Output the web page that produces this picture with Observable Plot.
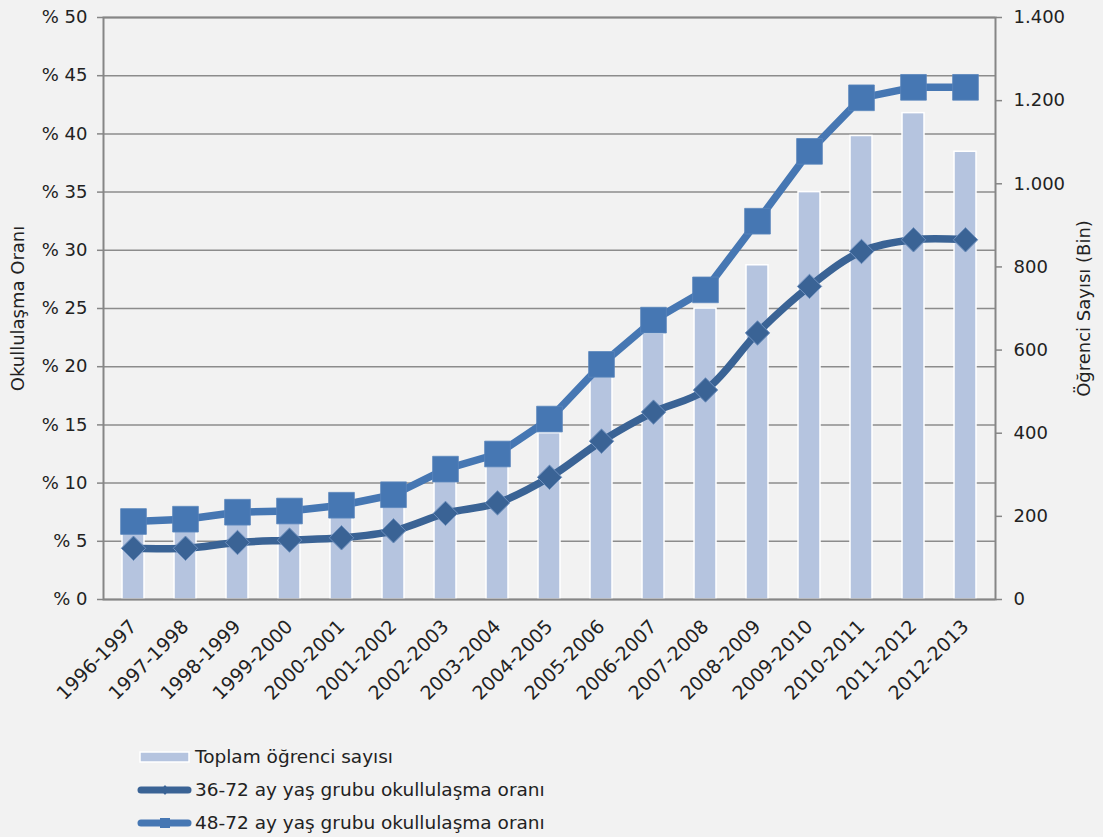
<!DOCTYPE html>
<html>
<head>
<meta charset="utf-8">
<script src="https://cdn.jsdelivr.net/npm/d3@7"></script>
<script src="https://cdn.jsdelivr.net/npm/@observablehq/plot@0.6"></script>
<style>
  html, body { margin: 0; padding: 0; background: #f2f2f2; }
  #wrap { width: 1103px; height: 837px; position: relative; background: #f2f2f2; font-family: "DejaVu Sans", sans-serif; color: #222; }
  #legend { position: absolute; left: 137px; top: 740px; font-size: 18.5px; }
  .row { display: flex; align-items: center; height: 33px; }
  .row svg { margin-right: 3px; }
</style>
</head>
<body>
<div id="wrap"><div id="chart"></div><div id="legend"></div></div>
<script>
const categories = ["1996-1997","1997-1998","1998-1999","1999-2000","2000-2001","2001-2002","2002-2003","2003-2004","2004-2005","2005-2006","2006-2007","2007-2008","2008-2009","2009-2010","2010-2011","2011-2012","2012-2013"];
const students = [185, 190, 200, 205, 225, 245, 310, 358, 400, 535, 640, 700, 804, 980, 1115, 1170, 1077];
const rate3672 = [4.4, 4.4, 4.9, 5.1, 5.3, 5.9, 7.4, 8.3, 10.5, 13.6, 16.1, 18.0, 22.9, 26.9, 29.9, 30.9, 30.9];
const rate4872 = [6.7, 6.9, 7.5, 7.6, 8.1, 9.0, 11.2, 12.5, 15.5, 20.2, 24.0, 26.6, 32.5, 38.5, 43.1, 44.0, 44.0];
const leftTicks = [0, 5, 10, 15, 20, 25, 30, 35, 40, 45, 50];
const rightTicks = [0, 200, 400, 600, 800, 1000, 1200, 1400];
const rightTickLabels = ["0", "200", "400", "600", "800", "1.000", "1.200", "1.400"];
const legendLabels = ["Toplam öğrenci sayısı", "36-72 ay yaş grubu okullulaşma oranı", "48-72 ay yaş grubu okullulaşma oranı"];

const leftMax = 50, rightMax = 1400;
const toLeft = v => v * leftMax / rightMax;

const barColor = "#b5c4df";
const col3672 = "#3a6395";
const col4872 = "#4677b3";
const axisGray = "#868686";

const table = categories.map((c, i) => ({cat: c, students: toLeft(students[i]), r36: rate3672[i], r48: rate4872[i]}));

const chart = Plot.plot({
  width: 1103, height: 735,
  marginLeft: 103, marginRight: 108, marginTop: 17, marginBottom: 136,
  style: {background: "#f2f2f2", fontFamily: "DejaVu Sans", fontSize: "18px", color: "#222", overflow: "visible"},
  x: {type: "band", domain: categories, padding: 0},
  y: {domain: [0, leftMax]},
  marks: [
    Plot.gridY(leftTicks, {stroke: "#8c8c8c", strokeOpacity: 1, strokeWidth: 1.5}),
    Plot.barY(table, {x: "cat", y1: 0, y2: "students", fill: barColor, stroke: "#ffffff", strokeWidth: 1.5, insetLeft: 15, insetRight: 15}),
    Plot.frame({stroke: axisGray, strokeWidth: 2}),
    Plot.line(table, {x: "cat", y: "r36", stroke: col3672, strokeWidth: 7.5, curve: "catmull-rom"}),
    Plot.line(table, {x: "cat", y: "r48", stroke: col4872, strokeWidth: 7.5}),
    Plot.dot(table, {x: "cat", y: "r36", symbol: "diamond2", r: 11, fill: col3672, stroke: "#6d8fbd", strokeWidth: 1}),
    Plot.dot(table, {x: "cat", y: "r48", symbol: "square", r: 14.5, fill: col4872, stroke: "#5b87bd", strokeWidth: 0.8}),
    Plot.axisY(leftTicks, {anchor: "left", tickFormat: d => "% " + d, tickSize: 6, tickPadding: 10, stroke: axisGray, strokeWidth: 1.5, fontSize: 18,
      label: "Okullulaşma Oranı", labelAnchor: "center", labelOffset: 92, labelArrow: "none"}),
    Plot.axisY(rightTicks.map(toLeft), {anchor: "right", tickFormat: d => rightTickLabels[Math.round(d * rightMax / leftMax / 200)], tickSize: 6, tickPadding: 12, stroke: axisGray, strokeWidth: 1.5, fontSize: 18,
      label: "Öğrenci Sayısı (Bin)", labelAnchor: "center", labelOffset: 94, labelArrow: "none"}),
    Plot.axisX({tickRotate: -45, tickSize: 0, tickPadding: 24, fontSize: 19, label: null})
  ]
});
document.getElementById("chart").appendChild(chart);

// Legend
const legend = d3.select("#legend");
const r1 = legend.append("div").attr("class", "row");
const s1 = r1.append("svg").attr("width", 55).attr("height", 16);
s1.append("rect").attr("x", 3).attr("y", 3).attr("width", 49).attr("height", 10).attr("fill", barColor).attr("stroke", "#fff").attr("stroke-width", 1.5);
r1.append("span").text(legendLabels[0]);

const r2 = legend.append("div").attr("class", "row");
const s2 = r2.append("svg").attr("width", 55).attr("height", 16);
s2.append("line").attr("x1", 4).attr("x2", 51).attr("y1", 8).attr("y2", 8).attr("stroke", col3672).attr("stroke-width", 7).attr("stroke-linecap", "round");
s2.append("path").attr("d", "M28,3 L32,8 L28,13 L24,8 Z").attr("fill", col3672);
r2.append("span").text(legendLabels[1]);

const r3 = legend.append("div").attr("class", "row");
const s3 = r3.append("svg").attr("width", 55).attr("height", 16);
s3.append("line").attr("x1", 4).attr("x2", 51).attr("y1", 8).attr("y2", 8).attr("stroke", col4872).attr("stroke-width", 7).attr("stroke-linecap", "round");
s3.append("rect").attr("x", 23).attr("y", 3).attr("width", 10).attr("height", 10).attr("fill", col4872);
r3.append("span").text(legendLabels[2]);
</script>
</body>
</html>
